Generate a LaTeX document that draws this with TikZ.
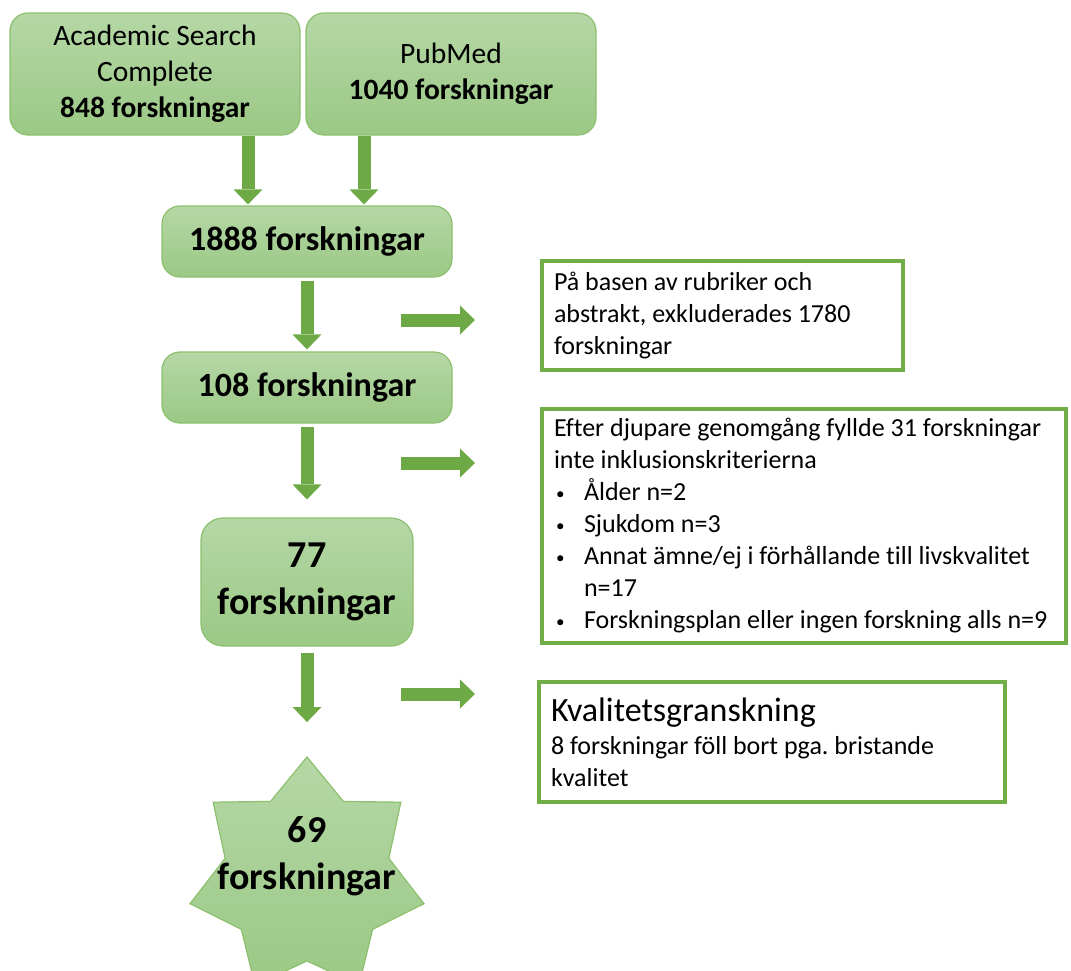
\documentclass[tikz,border=0pt]{standalone}
\usepackage{fontspec}
\setmainfont{Carlito}[Ligatures={NoCommon}]
\usetikzlibrary{shapes.geometric,arrows.meta,calc}
\definecolor{gtop}{HTML}{B5D7A6}
\definecolor{gbot}{HTML}{9BC985}
\definecolor{gborder}{HTML}{8CC06E}
\definecolor{arr}{HTML}{6DAA45}
\definecolor{rbord}{HTML}{70AD47}
\newcommand{\rbul}{\makebox[30pt][l]{\hspace*{2pt}\raisebox{1.5pt}{\fontsize{17}{17}\selectfont\textbullet}}}
\frenchspacing
\begin{document}
\frenchspacing
\begin{tikzpicture}[x=1pt,y=-1pt,
  gbox/.style={draw=gborder, line width=1.2pt, top color=gtop, bottom color=gbot,
    rounded corners=18pt, align=flush center, inner sep=0pt, text=black},
  rbox/.style={draw=rbord, line width=4pt, fill=white, align=flush left,
    inner xsep=12pt, inner ysep=0pt, text=black,
    font=\fontsize{26}{32}\selectfont},
  blk/.style={draw=arr, line width=13pt,
    -{Triangle[width=29pt,length=15pt,line width=0pt]}},
  ]
\path[use as bounding box, clip] (0,0) rectangle (1071,970);

% source boxes
\node[gbox, minimum width=290pt, minimum height=122pt,
  font=\fontsize{29.5}{36}\selectfont] (asc) at (155,74)
  {Academic Search\\Complete\\\textbf{848 forskningar}};
\node[gbox, minimum width=290pt, minimum height=122pt,
  font=\fontsize{29.5}{36}\selectfont] (pub) at (451,74)
  {PubMed\\\textbf{1040 forskningar}};

% main flow
\node[gbox, minimum width=290pt, minimum height=71pt,
  font=\fontsize{34}{41}\selectfont\bfseries] (n1888) at (307,241.5) {1888 forskningar};
\node[gbox, minimum width=290pt, minimum height=71pt,
  font=\fontsize{34}{41}\selectfont\bfseries] (n108) at (307,387.5) {108 forskningar};
\node[gbox, minimum width=212pt, minimum height=128pt, rounded corners=22pt,
  font=\fontsize{38}{47}\selectfont\bfseries] (n77) at (307,582) {77\\forskningar};
\node[star, star points=7, star point ratio=1.43, minimum size=240pt, inner sep=0pt,
  draw=gborder, line width=1.2pt, top color=gtop, bottom color=gbot] (star) at (307,877) {};
\node[font=\fontsize{38}{47}\selectfont\bfseries, align=flush center, inner sep=0pt, text=black]
  (t69) at (307,856) {69\\forskningar};

% right boxes
\node[rbox, minimum width=361pt, minimum height=109pt, text width=337pt] (r1box) at (722.5,315.5)
  {På basen av rubriker och\\abstrakt, exkluderades 1780\\forskningar};
\node[rbox, minimum width=524pt, minimum height=234pt, text width=500pt] (r2box) at (804,526)
  {Efter djupare genomgång fyllde 31 forskningar\\
   inte inklusionskriterierna\\
   \rbul Ålder n=2\\
   \rbul Sjukdom n=3\\
   \rbul Annat ämne/ej i förhållande till livskvalitet\\
   \hspace*{30pt}n=17\\
   \rbul Forskningsplan eller ingen forskning alls n=9};
\node[rbox, minimum width=466pt, minimum height=120pt, text width=442pt] (r3box) at (772,742)
  {{\fontsize{34}{41}\selectfont Kvalitetsgranskning}\\[1pt]
   8 forskningar föll bort pga. bristande\\kvalitet};

% down arrows
\draw[blk, shorten >=1pt] ([xshift=93pt]asc.south) -- ([xshift=93pt]asc.south |- n1888.north);
\draw[blk, shorten >=1pt] ([xshift=-87pt]pub.south) -- ([xshift=-87pt]pub.south |- n1888.north);
\draw[blk, shorten <=3pt, shorten >=2pt] (n1888) -- (n108);
\draw[blk, shorten <=3pt, shorten >=18pt] (n108) -- (n77);
\draw[blk, shorten <=6pt, shorten >=34pt] (n77) -- (star);

% side arrows
\coordinate (s1) at (401,320);
\coordinate (s2) at (401,463);
\coordinate (s3) at (401,694);
\draw[blk, shorten >=65pt] (s1) -- (s1 -| r1box.west);
\draw[blk, shorten >=65pt] (s2) -- (s2 -| r2box.west);
\draw[blk, shorten >=62pt] (s3) -- (s3 -| r3box.west);
\end{tikzpicture}
\end{document}
